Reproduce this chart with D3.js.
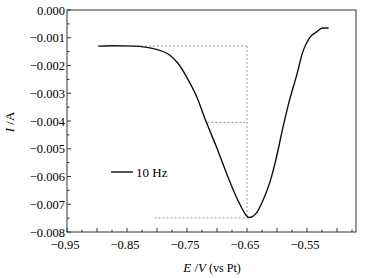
<!DOCTYPE html>
<html>
<head>
<meta charset="utf-8">
<script src="https://cdn.jsdelivr.net/npm/d3@7"></script>
<style>
  body { margin: 0; background: #fff; }
</style>
</head>
<body>
<svg id="fig" width="371" height="278" font-family="'Liberation Serif', 'Times New Roman', Times, serif"></svg>
<script>
// potential (V vs Pt) and current (A)
var potential = [-0.898, -0.870, -0.840, -0.801, -0.779, -0.765, -0.751, -0.734, -0.718, -0.701,
                 -0.684, -0.668, -0.6605, -0.6538, -0.6472, -0.6405, -0.6338, -0.6238, -0.6122, -0.602,
                 -0.591, -0.579, -0.567, -0.557, -0.546, -0.534, -0.524, -0.514];
var current = [-0.00130, -0.00129, -0.00130, -0.00142, -0.00162, -0.00192, -0.00240, -0.00312, -0.00403, -0.00493,
               -0.00589, -0.00673, -0.00706, -0.00732, -0.00748, -0.00744, -0.00730, -0.00688, -0.00623, -0.00541,
               -0.00432, -0.00324, -0.00234, -0.00151, -0.00101, -0.00079, -0.00065, -0.00065];
var xTickLabels = [-0.95, -0.85, -0.75, -0.65, -0.55];
var yTickLabels = [0, -0.001, -0.002, -0.003, -0.004, -0.005, -0.006, -0.007, -0.008];
// guide lines: [x1, x2, y]
var guidesH = [[-0.840, -0.65, -0.00130], [-0.716, -0.65, -0.00405], [-0.804, -0.65, -0.00749]];
var guideV = [-0.65, -0.00130, -0.00749];

var svg = d3.select("#fig");
var mLeft = 67, mRight = 356, mTop = 10, mBottom = 232;

var x = d3.scaleLinear().domain([-0.95, -0.4683]).range([mLeft, mRight]);
var y = d3.scaleLinear().domain([-0.008, 0]).range([mBottom, mTop]);

// frame
svg.append("rect").attr("x", mLeft).attr("y", mTop)
   .attr("width", mRight - mLeft).attr("height", mBottom - mTop)
   .attr("fill", "none").attr("stroke", "#333").attr("stroke-width", 1);

// x ticks (inward)
var xt = d3.range(0, 20).map(i => -0.95 + i * 0.025);
svg.append("g").selectAll("line").data(xt).enter().append("line")
   .attr("x1", d => x(d)).attr("x2", d => x(d))
   .attr("y1", mBottom).attr("y2", (d, i) => mBottom - (i % 2 == 0 ? 4 : 2.5))
   .attr("stroke", "#333");
svg.append("g").selectAll("text").data(xTickLabels).enter().append("text")
   .attr("x", d => x(d) - 2).attr("y", 249)
   .attr("text-anchor", "middle").attr("font-size", 12.5)
   .text(d => d3.format(".2f")(d).replace("-", "\u2212"));

// y ticks (inward)
var yt = d3.range(0, 17).map(i => -i * 0.0005);
svg.append("g").selectAll("line").data(yt).enter().append("line")
   .attr("x1", mLeft).attr("x2", (d, i) => mLeft + (i % 2 == 0 ? 4 : 2.5))
   .attr("y1", d => y(d)).attr("y2", d => y(d))
   .attr("stroke", "#333");
svg.append("g").selectAll("text").data(yTickLabels).enter().append("text")
   .attr("x", 65).attr("y", d => y(d) + 4.5)
   .attr("text-anchor", "end").attr("font-size", 12.5)
   .text(d => d3.format(".3f")(d).replace("-", "\u2212"));

// guide lines
svg.append("g").selectAll("line").data(guidesH).enter().append("line")
   .attr("x1", d => x(d[0])).attr("x2", d => x(d[1]))
   .attr("y1", d => y(d[2])).attr("y2", d => y(d[2]))
   .attr("stroke", "#999").attr("stroke-dasharray", "2,2");
svg.append("line")
   .attr("x1", x(guideV[0])).attr("x2", x(guideV[0]))
   .attr("y1", y(guideV[1])).attr("y2", y(guideV[2]))
   .attr("stroke", "#999").attr("stroke-dasharray", "2,2");

// curve
var pts = potential.map((p, i) => [p, current[i]]);
svg.append("path").datum(pts)
   .attr("d", d3.line().x(d => x(d[0])).y(d => y(d[1])).curve(d3.curveMonotoneX))
   .attr("fill", "none").attr("stroke", "#111").attr("stroke-width", 1.4);

// legend
svg.append("line").attr("x1", 111).attr("x2", 133).attr("y1", 172).attr("y2", 172)
   .attr("stroke", "#111").attr("stroke-width", 1.4);
svg.append("text").attr("x", 136).attr("y", 176.5).attr("font-size", 13).text("10 Hz");

// axis titles
var xl = svg.append("text").attr("x", 212).attr("y", 272).attr("text-anchor", "middle").attr("font-size", 13);
xl.append("tspan").attr("font-style", "italic").text("E");
xl.append("tspan").text(" /");
xl.append("tspan").attr("font-style", "italic").text("V");
xl.append("tspan").attr("font-size", 12).text(" (vs Pt)");

var yl = svg.append("text").attr("transform", "translate(14,122) rotate(-90)")
   .attr("text-anchor", "middle").attr("font-size", 13);
yl.append("tspan").attr("font-style", "italic").text("I");
yl.append("tspan").text(" /A");
</script>
</body>
</html>
